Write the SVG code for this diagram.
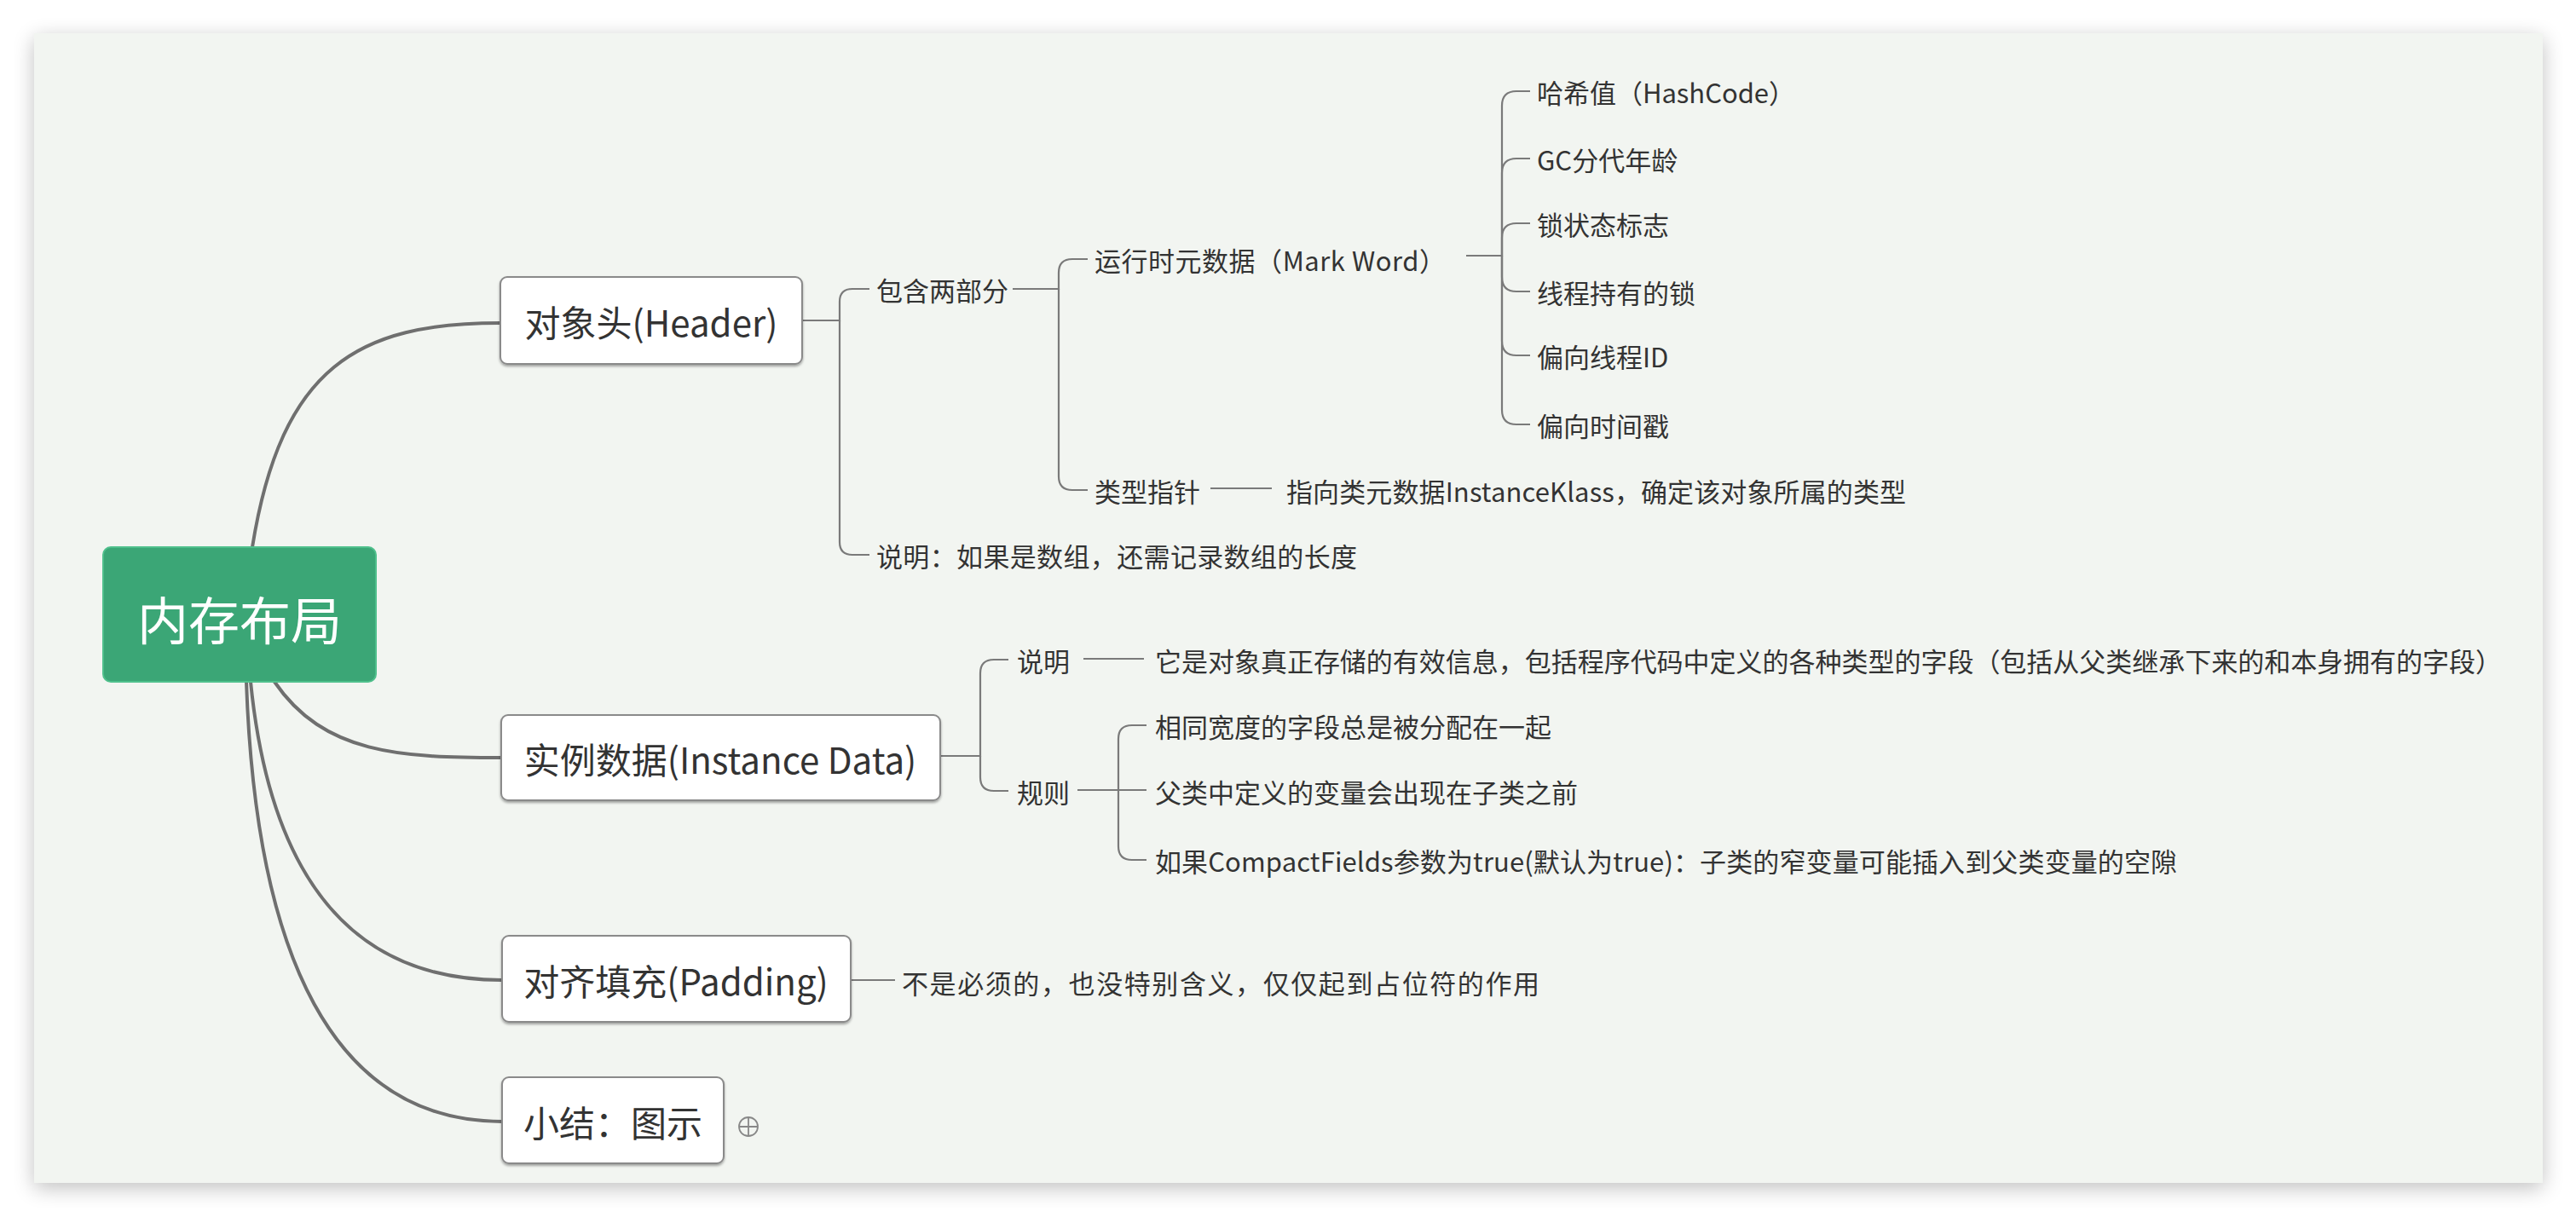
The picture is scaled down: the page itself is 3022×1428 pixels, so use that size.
<svg xmlns="http://www.w3.org/2000/svg" width="3022" height="1428" viewBox="0 0 3022 1428">
<defs>
<filter id="sh" x="-5%" y="-5%" width="110%" height="110%">
<feGaussianBlur in="SourceAlpha" stdDeviation="12"/>
<feOffset dx="0" dy="6" result="b"/>
<feComponentTransfer><feFuncA type="linear" slope="0.25"/></feComponentTransfer>
<feMerge><feMergeNode/><feMergeNode in="SourceGraphic"/></feMerge>
</filter>
<filter id="bs" x="-10%" y="-10%" width="120%" height="130%">
<feGaussianBlur in="SourceAlpha" stdDeviation="1.5"/>
<feOffset dx="0" dy="2"/>
<feComponentTransfer><feFuncA type="linear" slope="0.35"/></feComponentTransfer>
<feMerge><feMergeNode/><feMergeNode in="SourceGraphic"/></feMerge>
</filter>
</defs>
<style>
text{font-family:"Noto Sans CJK SC","Microsoft YaHei",sans-serif;fill:#333;dominant-baseline:central}
.t{font-size:31px}
.b{font-size:42px;text-anchor:middle}
.box{fill:#fff;stroke:#8a8a8a;stroke-width:2}
.main{fill:none;stroke:#6f6f6f;stroke-width:4;stroke-linecap:round}
.sub{fill:none;stroke:#7a7a7a;stroke-width:2.2}
</style>
<rect x="0" y="0" width="3022" height="1428" fill="#fff"/>
<rect x="40" y="39" width="2943" height="1349" fill="#f2f5f1" filter="url(#sh)"/>

<g id="connectors">
<path class="main" d="M296 642 C330 430 420 379 587 379"/>
<path class="main" d="M322 800 C380 885 470 889 588 889"/>
<path class="main" d="M294 800 C318 1040 420 1150 589 1150"/>
<path class="main" d="M289 800 C300 1120 390 1316 589 1316"/>

<path class="sub" d="M941 376 H985 V354 Q985 339 1000 339 H1020"/>
<path class="sub" d="M985 376 V636 Q985 651 1000 651 H1020"/>

<path class="sub" d="M1188 339 H1242 V320 Q1242 304 1258 304 H1276"/>
<path class="sub" d="M1242 339 V559 Q1242 575 1258 575 H1276"/>

<path class="sub" d="M1720 300 H1762 V124 Q1762 107 1779 107 H1795"/>
<path class="sub" d="M1762 300 V203 Q1762 186 1779 186 H1795"/>
<path class="sub" d="M1762 300 V279 Q1762 262 1779 262 H1795"/>
<path class="sub" d="M1762 300 V325 Q1762 342 1779 342 H1795"/>
<path class="sub" d="M1762 300 V400 Q1762 417 1779 417 H1795"/>
<path class="sub" d="M1762 300 V481 Q1762 498 1779 498 H1795"/>

<path class="sub" d="M1420 573 H1492"/>

<path class="sub" d="M1103 887 H1150 V790 Q1150 774 1166 774 H1183"/>
<path class="sub" d="M1150 887 V912 Q1150 928 1166 928 H1183"/>
<path class="sub" d="M1271 773 H1342"/>

<path class="sub" d="M1264 927 H1312 V867 Q1312 851 1328 851 H1345"/>
<path class="sub" d="M1312 927 H1345"/>
<path class="sub" d="M1312 927 V993 Q1312 1009 1328 1009 H1345"/>

<path class="sub" d="M998 1150 H1050"/>
</g>

<g id="root">
<rect x="121" y="642" width="320" height="158" rx="9" fill="#3ba676" stroke="#4fc08c" stroke-width="2"/>
<text x="281" y="724" style="font-size:60px;fill:#fff;text-anchor:middle">内存布局</text>
</g>

<g id="header">
<rect class="box" x="587" y="325" width="354" height="102" rx="8" filter="url(#bs)"/>
<text class="b" x="764" y="376">对象头(Header)</text>
</g>
<g id="instance">
<rect class="box" x="588" y="839" width="515" height="100" rx="8" filter="url(#bs)"/>
<text class="b" x="845" y="889">实例数据(Instance Data)</text>
</g>
<g id="padding">
<rect class="box" x="589" y="1098" width="409" height="101" rx="8" filter="url(#bs)"/>
<text class="b" x="793" y="1149">对齐填充(Padding)</text>
</g>
<g id="summary">
<rect class="box" x="589" y="1264" width="260" height="101" rx="8" filter="url(#bs)"/>
<text class="b" x="719" y="1315">小结：图示</text>
<g fill="none" stroke="#888" stroke-width="1.8">
<circle cx="878" cy="1322" r="11"/>
<path d="M867 1322 H889 M878 1311 V1333"/>
</g>
</g>

<g id="n-contains"><text class="t" x="1028" y="339">包含两部分</text></g>
<g id="n-markword"><text class="t" x="1284" y="304" textLength="412" lengthAdjust="spacing">运行时元数据（Mark Word）</text></g>
<g id="n-hash"><text class="t" x="1803" y="107" textLength="303" lengthAdjust="spacing">哈希值（HashCode）</text></g>
<g id="n-gc"><text class="t" x="1803" y="186">GC分代年龄</text></g>
<g id="n-lockflag"><text class="t" x="1803" y="262">锁状态标志</text></g>
<g id="n-lockheld"><text class="t" x="1803" y="342">线程持有的锁</text></g>
<g id="n-biasid"><text class="t" x="1803" y="417">偏向线程ID</text></g>
<g id="n-biastime"><text class="t" x="1803" y="498">偏向时间戳</text></g>
<g id="n-klass"><text class="t" x="1284" y="575">类型指针</text></g>
<g id="n-klassdesc"><text class="t" x="1509" y="575" textLength="727" lengthAdjust="spacing">指向类元数据InstanceKlass，确定该对象所属的类型</text></g>
<g id="n-arraynote"><text class="t" x="1028" y="651" textLength="564" lengthAdjust="spacing">说明：如果是数组，还需记录数组的长度</text></g>

<g id="n-idesc"><text class="t" x="1193" y="774">说明</text></g>
<g id="n-idesctext"><text class="t" x="1355" y="774" textLength="1580" lengthAdjust="spacing">它是对象真正存储的有效信息，包括程序代码中定义的各种类型的字段（包括从父类继承下来的和本身拥有的字段）</text></g>
<g id="n-rules"><text class="t" x="1193" y="928">规则</text></g>
<g id="n-rule1"><text class="t" x="1355" y="851">相同宽度的字段总是被分配在一起</text></g>
<g id="n-rule2"><text class="t" x="1355" y="928">父类中定义的变量会出现在子类之前</text></g>
<g id="n-rule3"><text class="t" x="1355" y="1009" textLength="1199" lengthAdjust="spacing">如果CompactFields参数为true(默认为true)：子类的窄变量可能插入到父类变量的空隙</text></g>

<g id="n-paddesc"><text class="t" x="1058" y="1152" textLength="748" lengthAdjust="spacing">不是必须的，也没特别含义，仅仅起到占位符的作用</text></g>
</svg>
